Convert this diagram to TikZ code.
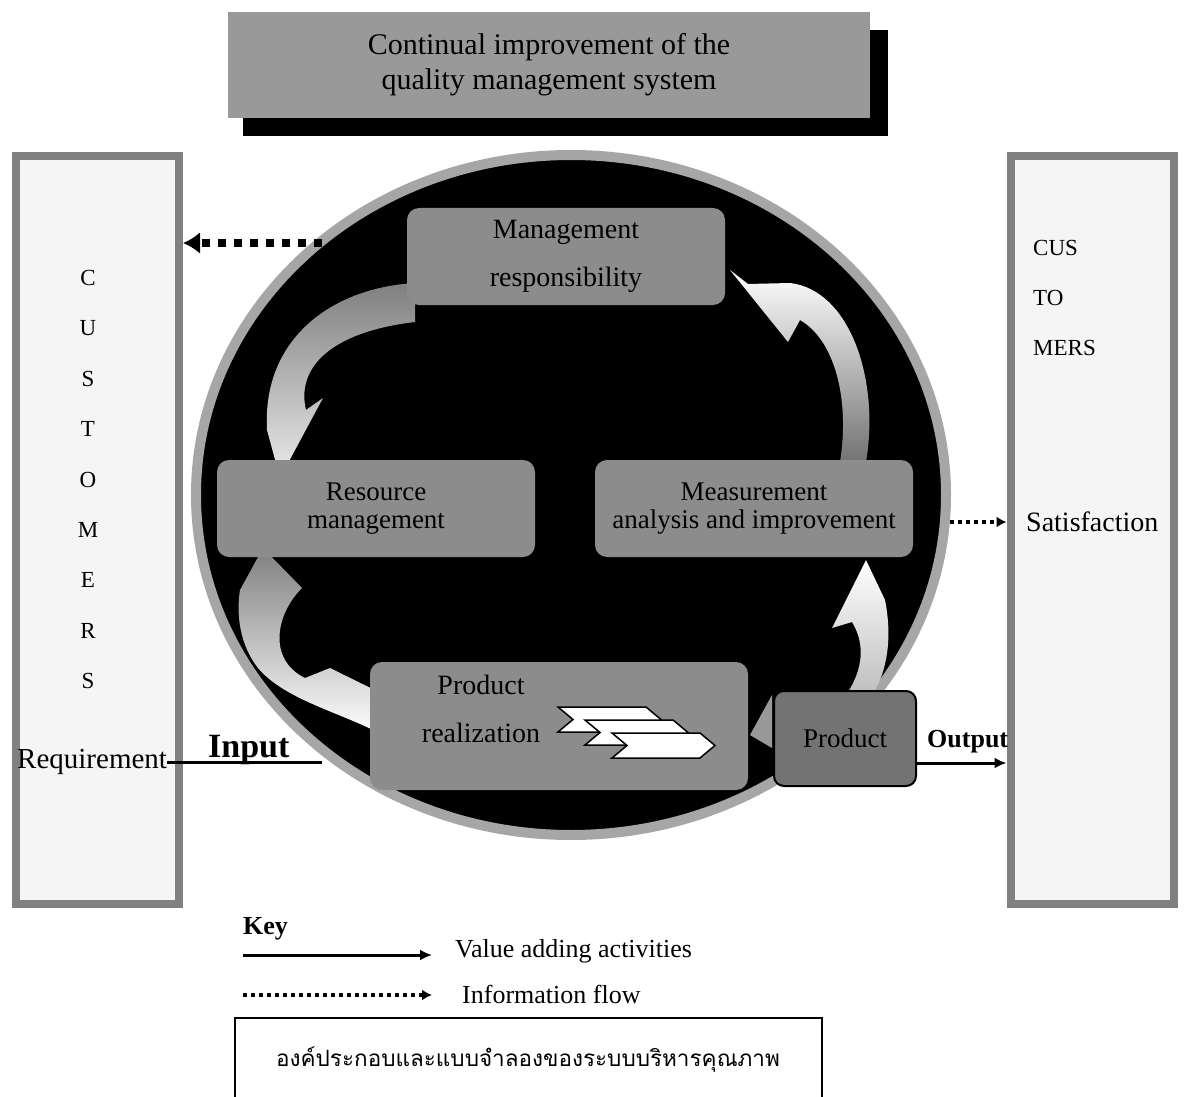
\documentclass[tikz,border=0pt]{standalone}
\usepackage{fontspec}
\setmainfont{Liberation Serif}
\newfontfamily\thaifont[Script=Thai]{Loma}
\usetikzlibrary{arrows.meta,shapes.geometric}
\newcommand{\fsz}[2]{\fontsize{#1}{#2}\selectfont}
\newcommand{\chevshape}[2]{\filldraw[chev] (#1,#2) -- ++(88,0) -- ++(15,12.5) -- ++(-15,12.5) -- ++(-88,0) -- ++(15,-12.5) -- cycle;}
\begin{document}
\begin{tikzpicture}[x=1pt,y=-1pt,
  proc/.style={rounded corners=12pt, fill=black!45, inner sep=0pt, align=center},
  custbox/.style={draw=black!50, line width=8pt, fill=black!4, minimum width=163pt, minimum height=748pt, inner sep=0pt},
  lab/.style={inner sep=0pt, font=\fsz{28}{28}},
  letter/.style={inner sep=0pt, font=\fsz{23}{23}},
  rlab/.style={inner sep=0pt, anchor=west, font=\fsz{23}{23}},
  flowarrow/.style={line width=3pt, -{Latex[length=12pt,width=11pt]}},
  infobig/.style={line width=8pt, dash pattern=on 8pt off 8pt, -{Latex[length=17pt,width=22pt]}},
  infosmall/.style={line width=4pt, dash pattern=on 4pt off 4pt, -{Latex[length=10pt,width=11pt]}},
  chev/.style={fill=white, draw=black, line width=1.5pt, line join=miter}
]
\useasboundingbox (0,0) rectangle (1187,1097);
\fill[white] (0,0) rectangle (1187,1097);

% title
\fill[black] (243,30) rectangle (888,136);
\node[fill=black!40, minimum width=642pt, minimum height=106pt, inner sep=0pt, align=center, font=\fsz{30}{35}] (title) at (549,65) {Continual improvement of the\\quality management system};

% customer boxes
\node[custbox] (custL) at (97.5,530) {};
\node[custbox] (custR) at (1092,530) {};
\foreach \L [count=\i] in {C,U,S,T,O,M,E,R,S}
  \node[letter] (cl\i) at (88,{278+50.4*(\i-1)}) {\L};
\node[rlab] (r1) at (1033,248) {CUS};
\node[rlab] (r2) at (1033,298) {TO};
\node[rlab] (r3) at (1033,348) {MERS};

% system circle
\node[ellipse, fill=black, draw=black!35, line width=10pt, minimum width=750pt, minimum height=680pt, inner sep=0pt] (sys) at (571,495) {};

% curved block arrows
\shade[top color=black!50, bottom color=black!8] (415,283) .. controls (330,288) and (262,340) .. (267,430) -- (280,478) -- (323,398) -- (306,410) .. controls (296,368) and (330,332) .. (415,322) -- cycle;
\shade[top color=white, bottom color=black!55] (866,462) .. controls (880,380) and (850,290) .. (790,283) -- (748,284) -- (730,270) -- (788,342) -- (800,320) .. controls (835,340) and (850,400) .. (840,462) -- cycle;
\shade[top color=black!50, bottom color=white] (263,548) -- (302,588) .. controls (275,615) and (268,660) .. (305,678) -- (330,668) -- (395,700) -- (383,735) .. controls (340,712) and (285,700) .. (258,668) .. controls (240,645) and (236,615) .. (240,590) -- cycle;
\shade[top color=white, bottom color=black!25] (848,692) .. controls (862,670) and (866,645) .. (852,622) -- (832,628) -- (866,560) -- (885,600) .. controls (893,640) and (886,672) .. (874,692) -- cycle;
\fill[black!40] (772,695) -- (750,735) -- (772,748) -- cycle;

% process boxes
\node[proc, minimum width=318pt, minimum height=97pt, font=\fsz{28}{48}] (mgmt) at (566,256.5) {Management\\responsibility};
\node[proc, minimum width=318pt, minimum height=97pt, font=\fsz{27}{28}] (res) at (376,508.5) {Resource\\management};
\node[proc, minimum width=318pt, minimum height=97pt, font=\fsz{27}{28}] (meas) at (754,508.5) {Measurement\\analysis and improvement};
\node[proc, minimum width=378pt, minimum height=128pt] (real) at (559,726) {};
\node[inner sep=0pt, align=center, font=\fsz{28}{48}] (realtext) at (481,709) {Product\\realization};
\chevshape{558}{707}
\chevshape{585}{720}
\chevshape{612}{733}
\node[proc, fill=black!55, draw=black, line width=2pt, rounded corners=10pt, minimum width=142pt, minimum height=95pt, font=\fsz{27}{30}] (prod) at (845,738.5) {Product};

% connectors
\coordinate (infoStart) at (322,243);
\draw[infobig] (infoStart) -- (custL.east |- infoStart);
\node[lab, anchor=west, font=\fsz{29}{29}] (req) at (17,762) {Requirement};
\coordinate (inEnd) at (322,762);
\draw[line width=3pt] (req.east) -- (inEnd);
\node[anchor=base west, inner sep=0pt, font=\bfseries\fsz{34}{34}] (inp) at (208,757) {Input};
\coordinate (outStart) at (917,763);
\draw[flowarrow] (outStart) -- (custR.west |- outStart);
\node[anchor=base west, inner sep=0pt, font=\bfseries\fsz{26}{26}] (outp) at (927,747) {Output};
\coordinate (satStart) at (950,522);
\draw[infosmall] (satStart) -- (custR.west |- satStart);
\node[lab, anchor=west] (sat) at (1026,522) {Satisfaction};

% key
\node[anchor=base west, inner sep=0pt, font=\bfseries\fsz{26}{26}] (key) at (243,934) {Key};
\coordinate (k1a) at (243,955);
\coordinate (k1b) at (432,955);
\draw[flowarrow] (k1a) -- (k1b);
\node[anchor=base west, inner sep=0pt, font=\fsz{26}{26}] (vadd) at (455,957) {Value adding activities};
\coordinate (k2a) at (243,995);
\coordinate (k2b) at (432,995);
\draw[infosmall] (k2a) -- (k2b);
\node[anchor=base west, inner sep=0pt, font=\fsz{26}{26}] (iflow) at (462,1003) {Information flow};

% thai caption box
\node[draw=black, line width=1.2pt, minimum width=587pt, minimum height=100pt, inner sep=0pt] (thaibox) at (528.5,1068) {};
\node[inner sep=0pt, font=\thaifont\fsz{22.5}{22.5}] (thai) at (528,1060) {องค์ประกอบและแบบจำลองของระบบบริหารคุณภาพ};
\end{tikzpicture}
\end{document}
